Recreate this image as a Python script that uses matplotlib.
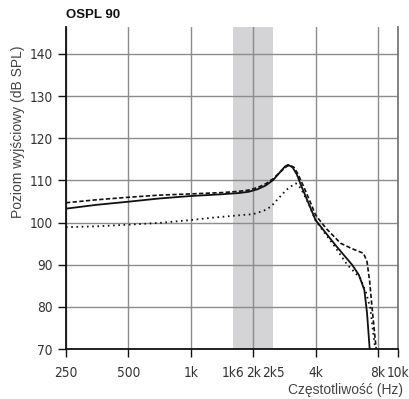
import matplotlib
matplotlib.use('Agg')
import matplotlib.pyplot as plt
from matplotlib.ticker import FixedLocator, FixedFormatter

# curves (Hz, dB SPL)
freq_solid = [250, 350, 500, 700, 1000, 1400, 1700, 1900, 2100, 2300, 2500, 2700,
              2850, 2950, 3100, 3250, 3400, 3700, 4000, 5000, 6000, 6470, 6880, 7090, 7300]
spl_solid = [103.3, 104.2, 104.95, 105.7, 106.3, 106.7, 107.0, 107.3, 107.9, 108.8, 110.1, 112.0,
             113.3, 113.7, 113.1, 111.4, 108.9, 104.6, 100.6, 94.6, 90.0, 87.6, 84.0, 78.5, 70.0]

freq_dashed = [250, 350, 500, 700, 1000, 1400, 1700, 1900, 2100, 2300, 2500, 2700, 2900,
               3000, 3150, 3300, 3500, 3800, 4000, 4500, 5280, 6000, 6820, 7090, 7300, 7490, 7700, 7850]
spl_dashed = [104.7, 105.4, 106.0, 106.5, 106.8, 107.1, 107.4, 107.7, 108.3, 109.2, 110.4, 112.0, 113.3,
              113.6, 113.1, 111.4, 108.6, 104.5, 101.8, 98.6, 95.1, 93.8, 92.7, 90.7, 86.0, 80.0, 74.0, 70.0]

freq_dotted = [250, 350, 500, 700, 1000, 1300, 1600, 2000, 2250, 2440, 2680, 2900, 3050,
               3220, 3400, 3700, 4000, 5000, 5690, 6580, 7000, 7350, 7760]
spl_dotted = [98.9, 99.1, 99.5, 99.9, 100.6, 101.2, 101.6, 102.0, 102.8, 103.8, 106.0, 107.8, 108.6,
              109.3, 108.1, 104.5, 100.5, 94.0, 90.0, 86.8, 83.5, 79.7, 70.0]

band = (1600, 2500)
x_major = [250, 500, 1000, 2000, 4000, 8000, 10000]
x_major_labels = ['250', '500', '1k', '2k', '4k', '8k', '10k']
x_minor = [1600, 2500]
x_minor_labels = ['1k6', '2k5']
y_ticks = [70, 80, 90, 100, 110, 120, 130, 140]

plt.rcParams['font.family'] = ['Liberation Sans', 'DejaVu Sans']

fig = plt.figure(figsize=(4.10, 3.99), dpi=100)
ax = fig.add_axes([66 / 410, 50 / 399, 332 / 410, 322 / 399])

ax.axvspan(band[0], band[1], color='#d4d4d6', lw=0, zorder=0.2)

ax.plot(freq_solid, spl_solid, color='#111111', lw=1.3, ls='-', zorder=3)
ax.plot(freq_dashed, spl_dashed, color='#111111', lw=1.2, ls=(0, (2.6, 1.4)), zorder=3)
ax.plot(freq_dotted, spl_dotted, color='#111111', lw=1.3, ls=(0, (0.9, 2.0)), zorder=3)

ax.set_xscale('log')
ax.set_xlim(250, 10000)
ax.set_ylim(70, 146.4)

ax.xaxis.set_major_locator(FixedLocator(x_major))
ax.xaxis.set_major_formatter(FixedFormatter(x_major_labels))
ax.xaxis.set_minor_locator(FixedLocator(x_minor))
ax.xaxis.set_minor_formatter(FixedFormatter(x_minor_labels))
ax.set_yticks(y_ticks)

ax.set_axisbelow(True)
ax.grid(True, which='major', color='#8c8c8c', lw=1.0)
# no gridline on the 10k edge, the right spine is there
ax.xaxis.get_gridlines()[-1].set_visible(False)

fs = 9.8
ax.tick_params(axis='x', which='major', length=5.5, width=1.0, pad=6.5, colors='#111111',
               labelcolor='#333333', labelsize=fs)
ax.tick_params(axis='x', which='minor', length=0, pad=12, labelcolor='#333333', labelsize=fs)
ax.tick_params(axis='y', length=5.8, width=1.0, pad=3.6, colors='#111111',
               labelcolor='#333333', labelsize=fs)
for lab in ax.get_xticklabels(which='both') + ax.get_yticklabels():
    lab.set_family('DejaVu Sans')
    lab.set_stretch('condensed')

ax.spines['top'].set_visible(False)
ax.spines['left'].set_color('#111111')
ax.spines['left'].set_linewidth(1.3)
ax.spines['bottom'].set_color('#111111')
ax.spines['bottom'].set_linewidth(1.3)
ax.spines['right'].set_color('#777777')
ax.spines['right'].set_linewidth(1.3)

fig.text(66 / 410, 1 - 18 / 399, 'OSPL 90', fontsize=9.5, weight='bold', color='#111111',
         ha='left', va='baseline')
fig.text(18 / 410, 1 - 132 / 399, 'Poziom wyjściowy (dB SPL)', fontsize=10, color='#444444',
         rotation=90, ha='center', va='center')
fig.text(403 / 410, 1 - 390 / 399, 'Częstotliwość (Hz)', fontsize=10, color='#444444',
         ha='right', va='center')

fig.savefig('out.png', dpi=100)
